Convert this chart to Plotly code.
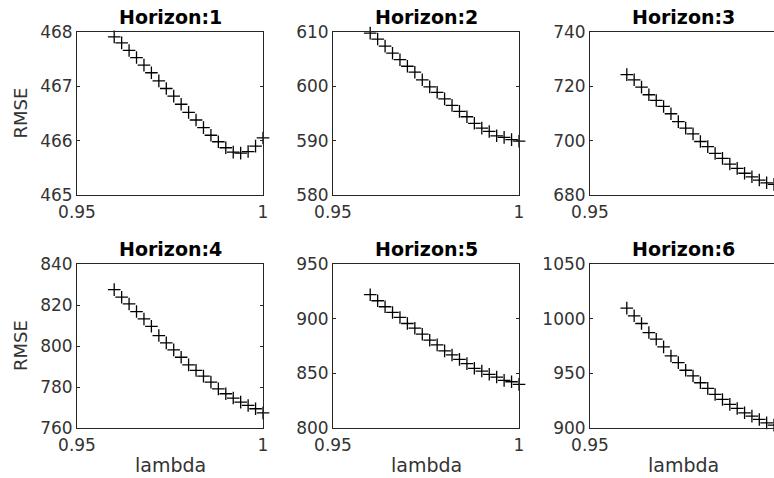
import plotly.graph_objects as go

lam = [0.960, 0.962, 0.964, 0.966, 0.968, 0.970, 0.972, 0.974, 0.976, 0.978,
       0.980, 0.982, 0.984, 0.986, 0.988, 0.990, 0.992, 0.994, 0.996, 0.998, 1.000]

h1 = [467.91, 467.80, 467.66, 467.53, 467.39, 467.25, 467.10, 466.96, 466.82, 466.67,
      466.52, 466.38, 466.24, 466.10, 465.98, 465.87, 465.79, 465.77, 465.80, 465.90, 466.05]
h2 = [609.8, 608.7, 607.4, 606.1, 604.9, 603.7, 602.6, 601.2, 599.9, 598.9,
      597.7, 596.5, 595.4, 594.4, 593.2, 592.3, 591.7, 590.9, 590.6, 590.2, 589.9]
h3 = [724.3, 722.4, 719.7, 716.9, 714.8, 712.6, 709.9, 707.0, 704.6, 702.5,
      699.7, 697.8, 695.3, 693.5, 691.4, 689.8, 688.0, 686.7, 685.5, 684.5, 683.9]
h4 = [827.5, 823.8, 820.5, 816.8, 813.2, 809.6, 805.1, 801.5, 798.1, 794.5,
      790.8, 788.1, 785.3, 782.4, 779.1, 776.7, 774.6, 772.6, 771.0, 769.4, 767.4]
h5 = [921.9, 916.4, 910.9, 905.7, 901.1, 895.6, 891.3, 885.8, 880.3, 876.0,
      870.5, 866.8, 862.8, 858.9, 854.6, 852.1, 849.1, 846.6, 843.6, 842.3, 839.9]
h6 = [1009.6, 1002.6, 995.6, 987.3, 981.2, 974.2, 965.9, 959.8, 952.8, 947.6,
      941.4, 936.2, 930.7, 926.1, 921.6, 917.9, 913.9, 910.9, 907.8, 904.7, 902.6]

series = [h1, h2, h3, h4, h5, h6]
titles = ["Horizon:1", "Horizon:2", "Horizon:3", "Horizon:4", "Horizon:5", "Horizon:6"]
yranges = [[465, 468], [580, 610], [680, 740], [760, 840], [800, 950], [900, 1050]]
ytickvals = [[465, 466, 467, 468], [580, 590, 600, 610], [680, 700, 720, 740],
             [760, 780, 800, 820, 840], [800, 850, 900, 950], [900, 950, 1000, 1050]]
xtickvals = [0.95, 1.0]
xticktext = ["0.95", "1"]
xlabel = "lambda"
ylabel = "RMSE"

W, H = 774, 478
PW = 186
xdoms = [[77 / W, 263 / W], [333 / W, 519 / W], [590 / W, 1.0]]
ydoms = [[1 - 195 / H, 1 - 32 / H], [1 - 428 / H, 1 - 264 / H]]

TXT = "#333333"
AX = "#262626"
FONT = "DejaVu Sans"

fig = go.Figure()
layout = dict(width=W, height=H, margin=dict(l=0, r=0, t=0, b=0, autoexpand=False),
              paper_bgcolor="white", plot_bgcolor="white", showlegend=False,
              font=dict(family=FONT, size=17, color=TXT))
annotations = []
for i in range(6):
    r, c = divmod(i, 3)
    n = i + 1
    xa = "x" if n == 1 else f"x{n}"
    ya = "y" if n == 1 else f"y{n}"
    fig.add_trace(go.Scatter(x=lam, y=series[i], mode="markers", xaxis=xa, yaxis=ya,
                             marker=dict(symbol="cross-thin", size=9, color="black",
                                         line=dict(width=1.3, color="black")),
                             cliponaxis=False))
    layout[f"xaxis{'' if n == 1 else n}"] = dict(
        domain=xdoms[c], anchor=ya, range=[0.95, 1.0], tickvals=xtickvals, ticktext=xticktext,
        showline=True, linecolor=AX, linewidth=1, mirror="ticks", ticks="inside", ticklen=3,
        tickcolor=AX, showgrid=False, zeroline=False, automargin=False,
        ticklabelstandoff=2, tickfont=dict(size=17, color=TXT))
    layout[f"yaxis{'' if n == 1 else n}"] = dict(
        domain=ydoms[r], anchor=xa, range=yranges[i], tickvals=ytickvals[i],
        showline=True, linecolor=AX, linewidth=1, mirror=("ticks" if c < 2 else False),
        ticks="inside", ticklen=3, tickcolor=AX, showgrid=False, zeroline=False,
        automargin=False, tickfont=dict(size=17, color=TXT))
    cx = (xdoms[c][0] * W + PW / 2) / W
    annotations.append(dict(text=f"<b>{titles[i]}</b>", xref="paper", yref="paper",
                            x=cx, y=ydoms[r][1], yanchor="middle", xanchor="center",
                            yshift=15, showarrow=False,
                            font=dict(size=19, color="black", family=FONT)))
    if r == 1:
        annotations.append(dict(text=xlabel, xref="paper", yref="paper", x=cx,
                                y=1 - 465 / H, yanchor="middle", xanchor="center",
                                showarrow=False, font=dict(size=19, color=TXT, family=FONT)))
    if c == 0:
        annotations.append(dict(text=ylabel, xref="paper", yref="paper", x=20 / W,
                                y=(ydoms[r][0] + ydoms[r][1]) / 2, yanchor="middle",
                                xanchor="center", textangle=-90, showarrow=False,
                                font=dict(size=18, color=TXT, family=FONT)))
layout["annotations"] = annotations
fig.update_layout(**layout)
fig.write_html("out.html")
